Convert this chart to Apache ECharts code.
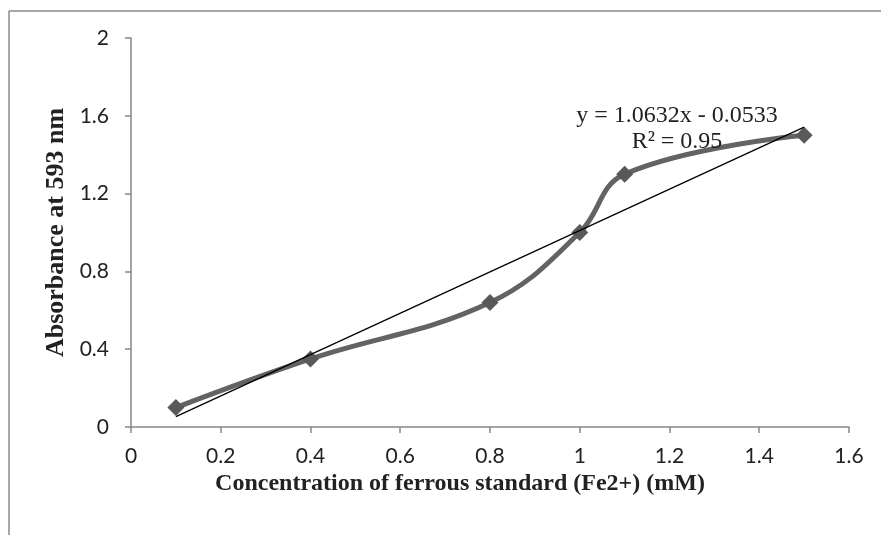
<!DOCTYPE html>
<html>
<head>
<meta charset="utf-8">
<script src="https://cdn.jsdelivr.net/npm/echarts@6/dist/echarts.min.js"></script>
<style>
html,body{margin:0;padding:0;background:#fff;}
#c{width:881px;height:535px;}
</style>
</head>
<body>
<div id="c"></div>
<script>
var concentration = [0.1, 0.4, 0.8, 1.0, 1.1, 1.5];
var absorbance = [0.1, 0.35, 0.64, 1.0, 1.3, 1.5];
var trendX = [0.1, 1.5];
var trendY = [0.053, 1.5415];
var equationText = 'y = 1.0632x - 0.0533';
var r2Text = 'R² = 0.95';
var xTitle = 'Concentration of ferrous standard (Fe2+) (mM)';
var yTitle = 'Absorbance at 593 nm';

var seriesData = concentration.map(function (x, i) { return [x, absorbance[i]]; });
var trendData = trendX.map(function (x, i) { return [x, trendY[i]]; });

var chart = echarts.init(document.getElementById('c'));
var axisGray = '#868686';
chart.setOption({
  animation: false,
  grid: { left: 131, right: 32, top: 38, bottom: 108 },
  xAxis: {
    type: 'value', min: 0, max: 1.6, interval: 0.2,
    name: xTitle, nameLocation: 'middle', nameGap: 43,
    nameTextStyle: { fontFamily: 'Liberation Serif', fontWeight: 'bold', fontSize: 24, color: '#222', padding: [0, 60, 0, 0] },
    axisLine: { show: true, lineStyle: { color: axisGray, width: 1.5 } },
    axisTick: { show: true, length: 6, lineStyle: { color: axisGray, width: 1.5 } },
    axisLabel: { margin: 19, fontFamily: 'Lato', fontSize: 21, color: '#222' },
    splitLine: { show: false }
  },
  yAxis: {
    type: 'value', min: 0, max: 2, interval: 0.4,
    name: yTitle, nameLocation: 'middle', nameGap: 62,
    nameTextStyle: { fontFamily: 'Liberation Serif', fontWeight: 'bold', fontSize: 26, color: '#222' },
    axisLine: { show: true, lineStyle: { color: axisGray, width: 1.5 } },
    axisTick: { show: true, length: 6, lineStyle: { color: axisGray, width: 1.5 } },
    axisLabel: { margin: 22, fontFamily: 'Lato', fontSize: 21, color: '#222' },
    splitLine: { show: false }
  },
  series: [
    {
      type: 'line', data: seriesData, smooth: 0.4,
      symbol: 'diamond', symbolSize: 17,
      lineStyle: { color: '#636363', width: 5 },
      itemStyle: { color: '#595959' },
      z: 2
    },
    {
      type: 'line', data: trendData, symbol: 'none',
      lineStyle: { color: '#000', width: 1.3 },
      z: 3
    }
  ],
  graphic: [
    { type: 'line', shape: { x1: 9, y1: 11, x2: 881, y2: 11 }, style: { stroke: '#8a8a8a', lineWidth: 1.5 } },
    { type: 'line', shape: { x1: 9, y1: 11, x2: 9, y2: 535 }, style: { stroke: '#8a8a8a', lineWidth: 1.5 } },
    { type: 'text', x: 677, y: 116, style: { text: equationText, font: '24px "Liberation Serif"', fill: '#222', textAlign: 'center', textVerticalAlign: 'middle' }, z: 10 },
    { type: 'text', x: 677, y: 142, style: { text: r2Text, font: '24px "Liberation Serif"', fill: '#222', textAlign: 'center', textVerticalAlign: 'middle' }, z: 10 }
  ]
});
</script>
</body>
</html>
